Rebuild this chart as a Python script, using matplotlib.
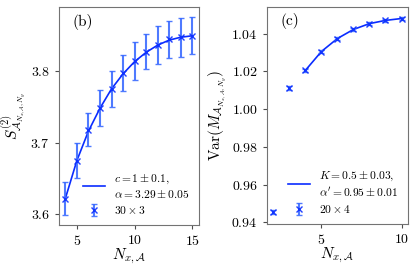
import matplotlib
matplotlib.use("Agg")
import matplotlib.pyplot as plt

plt.rcParams['font.family'] = 'serif'
plt.rcParams['font.serif'] = ['cmr10']
plt.rcParams['mathtext.fontset'] = 'cm'
plt.rcParams['axes.formatter.use_mathtext'] = True
plt.rcParams['axes.unicode_minus'] = False

# panel (b)
nx_b = [4, 5, 6, 7, 8, 9, 10, 11, 12, 13, 14, 15]
s2_b = [3.622, 3.675, 3.718, 3.748, 3.775, 3.797, 3.814, 3.827, 3.836, 3.844, 3.847, 3.849]
err_b = [0.023, 0.024, 0.023, 0.025, 0.025, 0.025, 0.026, 0.025, 0.026, 0.026, 0.027, 0.026]
fit_b = [3.622, 3.675, 3.716, 3.748, 3.775, 3.796, 3.813, 3.826, 3.836, 3.843, 3.847, 3.849]

# panel (c)
nx_c = [2, 3, 4, 5, 6, 7, 8, 9, 10]
var_c = [0.9454, 1.0111, 1.0205, 1.0305, 1.0374, 1.0422, 1.0453, 1.0470, 1.0480]
err_c = [0.0010, 0.0010, 0.0010, 0.0009, 0.0009, 0.0009, 0.0009, 0.0009, 0.0009]
nx_fit_c = [4, 5, 6, 7, 8, 9, 10]
fit_c = [1.0205, 1.0305, 1.0374, 1.0422, 1.0453, 1.0470, 1.0480]

line_col = '#0a2cff'
err_col = '#3c6cff'

fig = plt.figure(figsize=(4.15, 2.67), dpi=100)
ax1 = fig.add_axes([0.142, 0.157, 0.337, 0.816])
ax2 = fig.add_axes([0.643, 0.161, 0.340, 0.813])

ax1.plot(nx_b, fit_b, color=line_col, lw=1.2,
         label='$c = 1 \\pm 0.1,$\n$\\alpha = 3.29 \\pm 0.05$')
ax1.errorbar(nx_b, s2_b, yerr=err_b, fmt='x', color=err_col, ecolor=err_col,
             ms=4, mec=line_col, elinewidth=1.5, capsize=2, alpha=0.9,
             label='$30 \\times 3$')
ax1.set_xticks([5, 10, 15])
ax1.set_yticks([3.6, 3.7, 3.8])
ax1.set_xlabel('$N_{x,\\mathcal{A}}$', fontsize=11, labelpad=-1)
ax1.set_ylabel('$S^{(2)}_{\\mathcal{A}_{N_{x,\\mathcal{A}},N_y}}$', fontsize=11, labelpad=2)
ax1.text(0.1, 0.97, '(b)', transform=ax1.transAxes, fontsize=11, va='top')
ax1.legend(loc='lower right', frameon=False, fontsize=8.3, handlelength=1.9,
           borderaxespad=0.4, labelspacing=0.3)

ax2.plot(nx_fit_c, fit_c, color=line_col, lw=1.2,
         label="$K = 0.5 \\pm 0.03,$\n$\\alpha' = 0.95 \\pm 0.01$")
ax2.errorbar(nx_c, var_c, yerr=err_c, fmt='x', color=err_col, ecolor=err_col,
             ms=4, mec=line_col, elinewidth=1.5, capsize=2, alpha=0.9,
             label='$20 \\times 4$')
ax2.set_xticks([5, 10])
ax2.set_yticks([0.94, 0.96, 0.98, 1.00, 1.02, 1.04])
ax2.set_xlabel('$N_{x,\\mathcal{A}}$', fontsize=11, labelpad=-1)
ax2.set_ylabel('$\\mathrm{Var}(M_{\\mathcal{A}_{N_{x,\\mathcal{A}},N_y}})$', fontsize=11, labelpad=2)
ax2.text(0.1, 0.97, '(c)', transform=ax2.transAxes, fontsize=11, va='top')
ax2.legend(loc='lower right', frameon=False, fontsize=8.3, handlelength=1.9,
           borderaxespad=0.4, labelspacing=0.3)

for ax in (ax1, ax2):
    for sp in ax.spines.values():
        sp.set_color('0.45')
    ax.tick_params(labelsize=10, color='0.3', length=3)

fig.savefig('out.png', dpi=100)
